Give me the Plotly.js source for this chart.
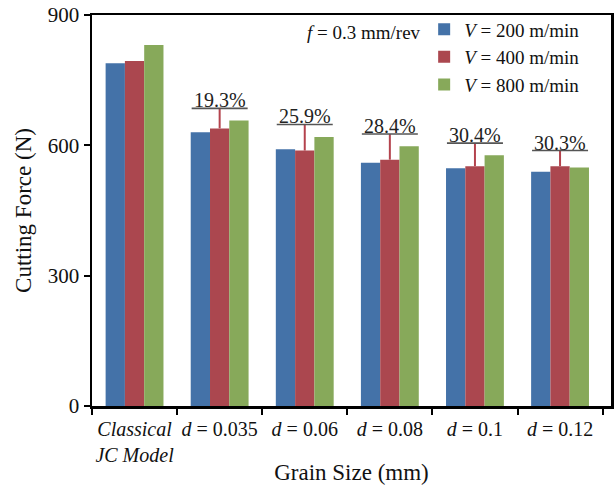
<!DOCTYPE html>
<html><head><meta charset="utf-8">
<script src="https://cdn.plot.ly/plotly-3.0.1.min.js"></script>
<style>html,body{margin:0;padding:0;background:#fff}#chart{width:616px;height:492px}</style>
</head><body><div id="chart"></div>
<script>
const categories = ["<i>Classical</i><br><i>JC Model</i>", "<i>d</i> = 0.035", "<i>d</i> = 0.06", "<i>d</i> = 0.08", "<i>d</i> = 0.1", "<i>d</i> = 0.12"];
const v200 = [789, 630, 591, 560, 547, 539];
const v400 = [794, 639, 588, 567, 552, 552];
const v800 = [831, 657, 619, 598, 577, 549];
const diffTop = [null, 685, 648, 626, 605, 588];
const diffLabels = ["", "19.3%", "25.9%", "28.4%", "30.4%", "30.3%"];
const seriesNames = ["<i>V</i> = 200 m/min", "<i>V</i> = 400 m/min", "<i>V</i> = 800 m/min"];

const FONT = "Liberation Serif, Times New Roman, serif";
const colors = ["#4472a8", "#ab474f", "#87a95a"];

const errPlus = v400.map((v, i) => diffTop[i] == null ? 0 : diffTop[i] - v);

const traces = [
  {type: "bar", x: categories, y: v200, name: seriesNames[0], marker: {color: colors[0]}},
  {type: "bar", x: categories, y: v400, name: seriesNames[1], marker: {color: colors[1]},
   error_y: {type: "data", symmetric: false, array: errPlus, arrayminus: v400.map(() => 0), width: 0, thickness: 2, color: "#b4434d"}},
  {type: "bar", x: categories, y: v800, name: seriesNames[2], marker: {color: colors[2]}},
  {type: "scatter", mode: "markers", x: categories.slice(1), y: diffTop.slice(1), showlegend: false, hoverinfo: "skip",
   marker: {symbol: "line-ew", size: 40, color: "#555", line: {width: 1.6, color: "#555"}}}
];

const annotations = diffLabels.map((t, i) => t ? {
  x: categories[i], y: diffTop[i], xref: "x", yref: "y", text: t, showarrow: false,
  xanchor: "center", yanchor: "bottom", yshift: -5, font: {family: FONT, size: 20, color: "#222"}
} : null).filter(a => a);
annotations.push({xref: "paper", yref: "paper", x: 0.41, y: 0.954, xanchor: "left", yanchor: "middle",
  text: "<i>f</i> = 0.3 mm/rev", showarrow: false, font: {family: FONT, size: 19, color: "#111"}});

const layout = {
  width: 616, height: 492,
  margin: {l: 92, r: 5, t: 15, b: 86},
  paper_bgcolor: "#fff", plot_bgcolor: "#fff",
  font: {family: FONT, size: 20, color: "#111"},
  barmode: "group", bargap: 0.32, bargroupgap: 0,
  showlegend: true,
  legend: {x: 0.64, y: 1.012, xanchor: "left", yanchor: "top", bgcolor: "rgba(0,0,0,0)",
    font: {family: FONT, size: 19, color: "#111"}, itemwidth: 30, tracegroupgap: 0},
  xaxis: {showline: true, linewidth: 2.5, linecolor: "#000", mirror: true, ticks: "outside", ticklen: 6, tickwidth: 2,
    tickson: "boundaries", tickcolor: "#000", tickangle: 0, ticklabelstandoff: 3, tickfont: {family: FONT, size: 20},
    title: {text: "Grain Size (mm)", font: {family: FONT, size: 23}, standoff: 0}},
  yaxis: {range: [0, 900], dtick: 300, tick0: 0, showgrid: false, zeroline: false, showline: true, linewidth: 2.5,
    linecolor: "#000", mirror: true, ticks: "outside", ticklen: 6, tickwidth: 2, tickcolor: "#000",
    tickfont: {family: FONT, size: 21},
    title: {text: "Cutting Force (N)", font: {family: FONT, size: 23}, standoff: 10}},
  annotations: annotations
};
Plotly.newPlot("chart", traces, layout, {displayModeBar: false, staticPlot: true});
</script></body></html>
